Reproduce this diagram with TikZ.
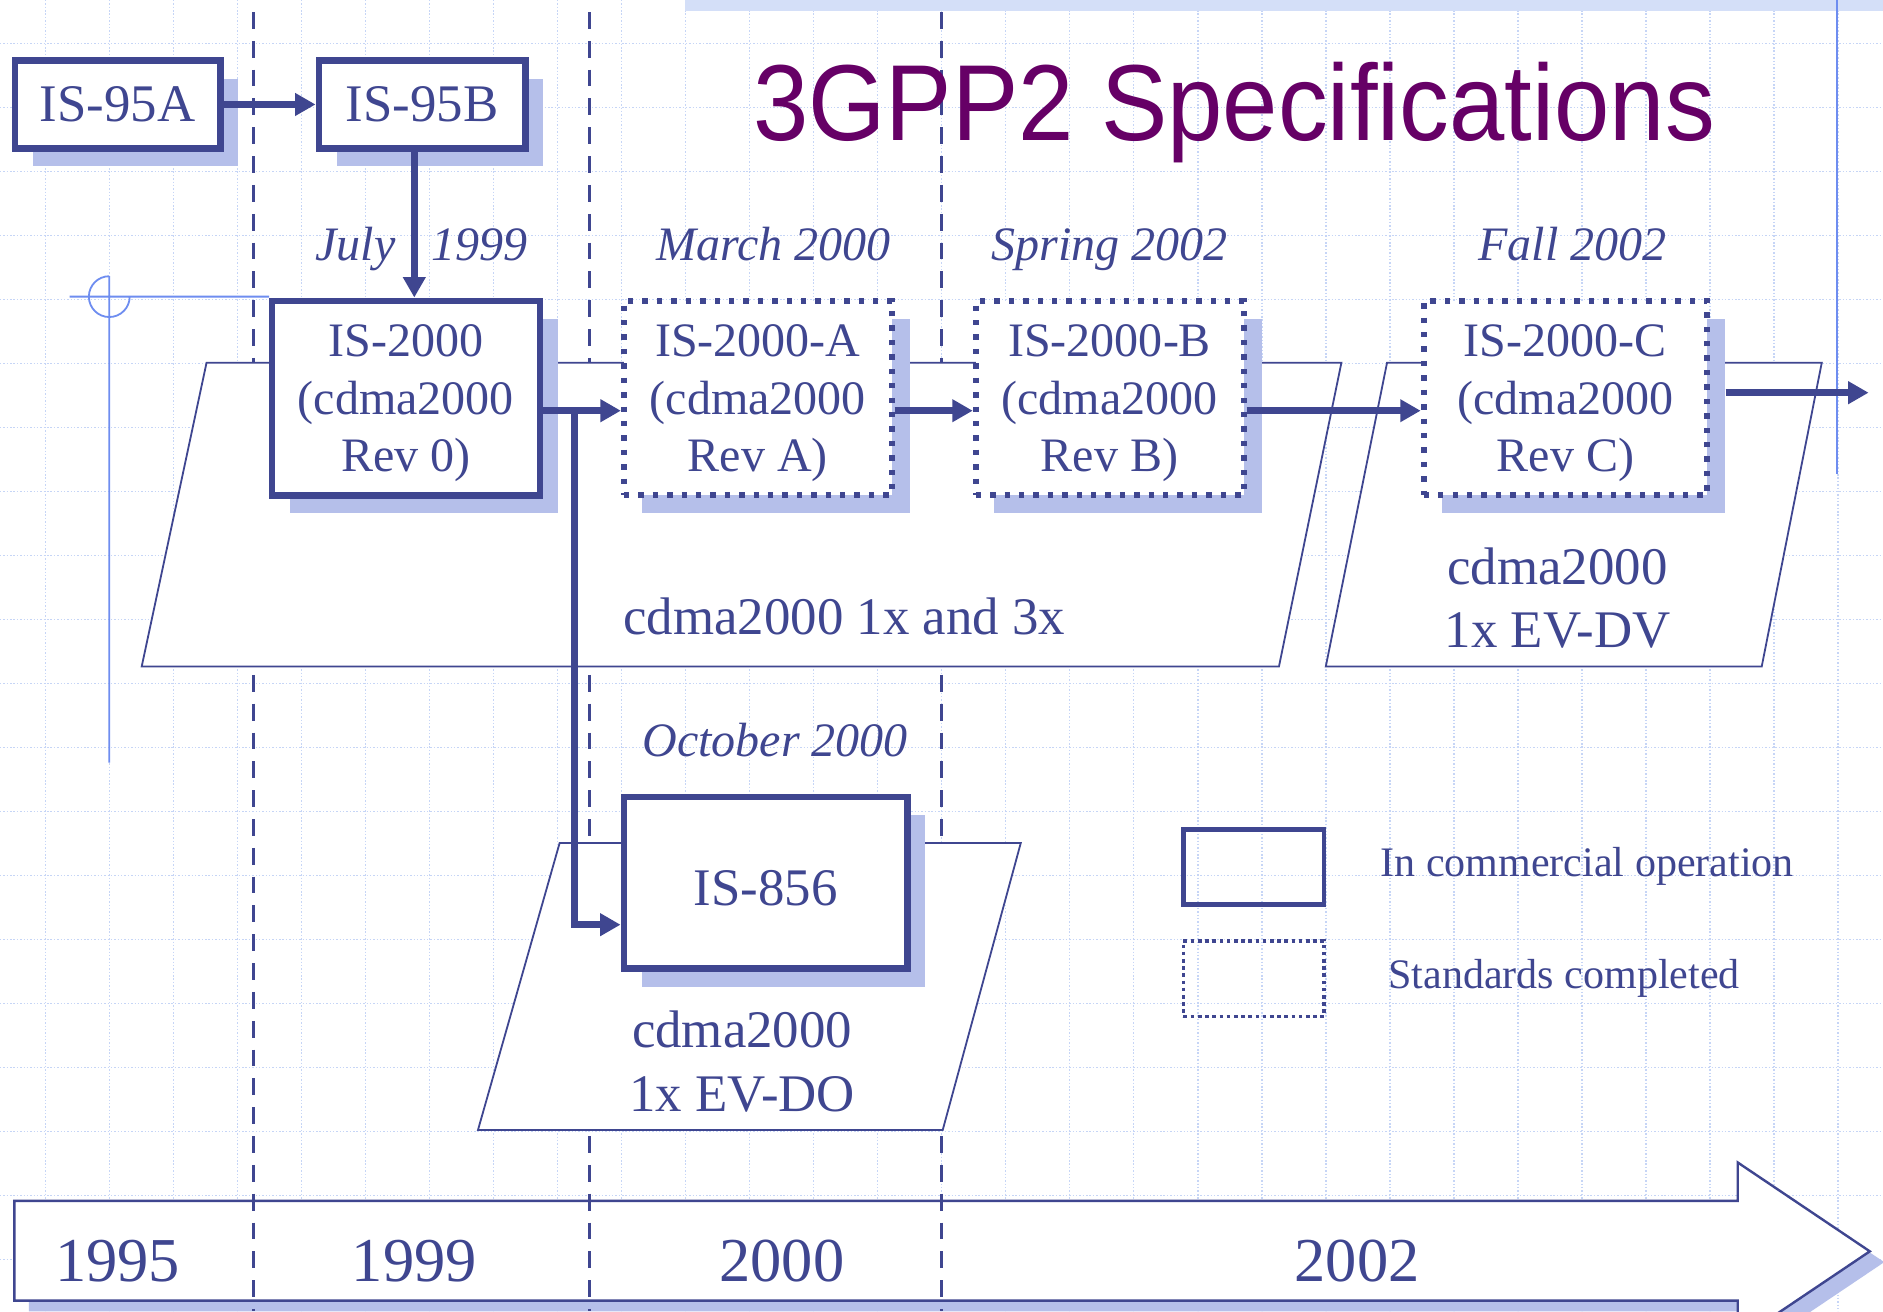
\documentclass[tikz,border=0pt]{standalone}
\usepackage{fontspec}
\setmainfont{Liberation Serif}
\newfontfamily\titlefont[FakeStretch=0.92]{Liberation Sans}
\usetikzlibrary{arrows.meta,positioning,shadows}
\definecolor{specblue}{HTML}{3F4690}
\definecolor{shadeblue}{HTML}{B5BFEA}
\definecolor{gridblue}{HTML}{C6D5F6}
\definecolor{decoblue}{HTML}{6E8DF0}
\definecolor{titlepurple}{HTML}{660066}
\newcommand{\specstrut}{\rule{0pt}{0.88em}}

\begin{document}
\begin{tikzpicture}[x=1pt,y=-1pt,text=specblue,
   font=\fontsize{40}{48}\selectfont,
   spec/.style={draw=specblue,line width=5.5pt,fill=white,align=center,inner sep=0pt,
                minimum width=223pt,minimum height=162pt,
                drop shadow={shadow xshift=15pt,shadow yshift=-15pt,opacity=1,fill=shadeblue}},
   done/.style={spec,line width=5pt,dash pattern=on 4.5pt off 7.5pt},
   bigtext/.style={font=\fontsize{44}{53}\selectfont},
   yeartext/.style={font=\fontsize{52}{60}\selectfont},
   era/.style={draw=specblue,line width=1.5pt,fill=white},
   when/.style={font=\fontsize{40}{48}\selectfont\itshape,inner sep=0pt,text height=28pt,text depth=9pt},
   flow/.style={draw=specblue,line width=5.5pt,-{Triangle[length=17pt,width=18pt]}},
   yearline/.style={draw=specblue,line width=3pt,dash pattern=on 14pt off 10pt},
   gridline/.style={draw=gridblue,line width=1.2pt,dash pattern=on 1.2pt off 1.6pt},
   legendbox/.style={draw=specblue,minimum width=117pt,minimum height=63pt},
   legendtext/.style={font=\fontsize{35}{42}\selectfont,inner sep=0pt,text height=24pt,text depth=8pt}]
  \clip (0,0) rectangle (1568,1092);
  \fill[white] (0,0) rectangle (1568,1092);
  \foreach \k in {0,...,28} \draw[gridline] (38+53.3*\k,0) -- (38+53.3*\k,1092);
  \foreach \k in {0,...,19} \draw[gridline] (0,36+53.3*\k) -- (1568,36+53.3*\k);
  \fill[gridblue!75] (570,0) rectangle (1568,9);
  \draw[decoblue,line width=1.5pt] (1530,0) -- (1530,395);
  \draw[decoblue,line width=1.5pt] (58,247) -- (224,247) (91,230) -- (91,635)
       (91,230) arc[start angle=90,end angle=360,radius=17pt];

  \fill[shadeblue,xshift=12pt,yshift=-9pt] (12,1000) -- (1447,1000) -- (1447,968) -- (1557,1042)
       -- (1447,1116) -- (1447,1083) -- (12,1083) -- cycle;
  \draw[era,line width=2pt] (12,1000) -- (1447,1000) -- (1447,968) -- (1557,1042)
       -- (1447,1116) -- (1447,1083) -- (12,1083) -- cycle;
  \foreach \sx in {211,491,784} \draw[yearline] (\sx,10) -- (\sx,1092);
  \draw[era] (172,302) -- (1117,302) -- (1065,555) -- (118,555) -- cycle;
  \draw[era] (1155,302) -- (1517,302) -- (1467,555) -- (1104,555) -- cycle;
  \draw[era] (466,702) -- (850,702) -- (785,941) -- (398,941) -- cycle;

  \node[spec,bigtext,minimum width=171pt,minimum height=73pt] (is95a) at (98,87) {IS-95A};
  \node[spec,bigtext,minimum width=172pt,minimum height=73pt] (is95b) at (351.5,87) {IS-95B};
  \node[spec] (is2000) at (338,331.5) {\specstrut IS-2000\\(cdma2000\\Rev 0)};
  \node[done] (is2000a) at (631,331.5) {\specstrut IS-2000-A\\(cdma2000\\Rev A)};
  \node[done] (is2000b) at (924,331.5) {\specstrut IS-2000-B\\(cdma2000\\Rev B)};
  \node[done,minimum width=236pt] (is2000c) at (1303.5,331.5) {\specstrut IS-2000-C\\(cdma2000\\Rev C)};
  \node[spec,bigtext,minimum width=236pt,minimum height=143pt] (is856) at (637.5,735) {\specstrut IS-856};

  \node[when,above=22pt of is2000,xshift=13pt] (d1999) {July\hspace{0.75em}1999};
  \node[when,above=22pt of is2000a,xshift=13pt] (d2000a) {March 2000};
  \node[when,above=22pt of is2000b] (d2002b) {Spring 2002};
  \node[when,above=22pt of is2000c,xshift=6pt] (d2002c) {Fall 2002};
  \node[when,above=22pt of is856,xshift=8pt] (d2000o) {October 2000};

  \coordinate (drop) at ([xshift=-6.5pt]is95b.south);
  \coordinate (rowA) at ([yshift=-10.5pt]is2000.east);
  \coordinate (branch) at ([xshift=26pt]rowA);
  \coordinate (evdo) at ([yshift=-35pt]is856.west);
  \coordinate (outC) at ([xshift=13pt,yshift=4.5pt]is2000c.east);
  \coordinate[right=119pt of outC] (nextrev);
  \draw[flow] (is95a) -- (is95b);
  \draw[flow] (drop) -- (drop |- is2000.north);
  \draw[flow] (rowA) -- (rowA -| is2000a.west);
  \draw[flow] (rowA -| is2000a.east) -- (rowA -| is2000b.west);
  \draw[flow] (rowA -| is2000b.east) -- (rowA -| is2000c.west);
  \draw[flow] (outC) -- (nextrev);
  \draw[flow] (branch) |- (evdo);

  \node[bigtext] (t1x3x) at (703,513) {cdma2000 1x and 3x};
  \node[bigtext,align=center] (tevdv) at (1297,498) {cdma2000\\1x EV-DV};
  \node[bigtext,align=center] (tevdo) at (618,884) {cdma2000\\1x EV-DO};

  \node[yeartext] (y1995) at (98,1050) {1995};
  \node[yeartext] (y1999) at (345,1050) {1999};
  \node[yeartext] (y2000) at (651,1050) {2000};
  \node[yeartext] (y2002) at (1130,1050) {2002};

  \node[legendbox,line width=4pt] (keylive) at (1044,722) {};
  \node[legendbox,line width=3pt,dash pattern=on 3pt off 3pt] (keydone) at (1044,815) {};
  \node[legendtext,right=45pt of keylive] (keylivetxt) {In commercial operation};
  \node[legendtext,right=52pt of keydone] (keydonetxt) {Standards completed};

  \node[font=\titlefont\fontsize{90}{100}\selectfont,text=titlepurple,anchor=base west,inner sep=0pt]
       (title) at (627,117) {3GPP2 Specifications};
\end{tikzpicture}
\end{document}
